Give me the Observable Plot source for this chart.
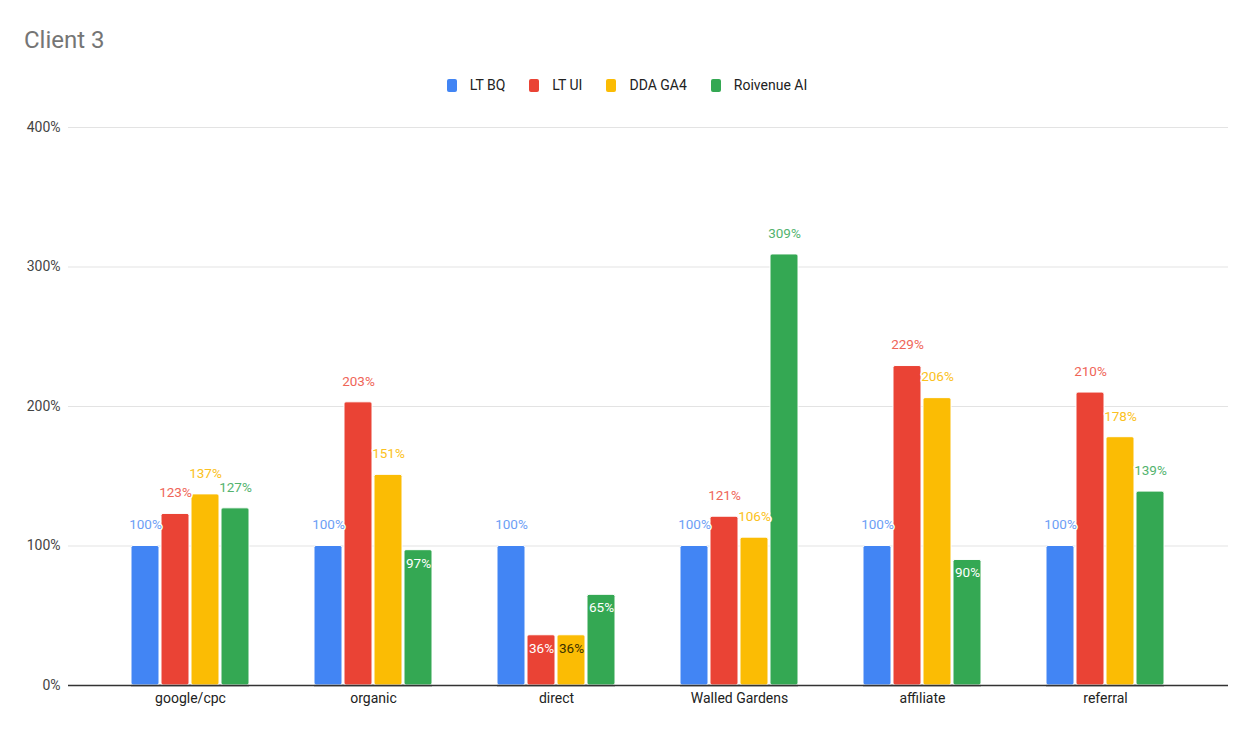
<!DOCTYPE html>
<html>
<head>
<meta charset="utf-8">
<script src="https://cdn.jsdelivr.net/npm/d3@7"></script>
<script src="https://cdn.jsdelivr.net/npm/@observablehq/plot@0.6"></script>
<style>
  html, body { margin: 0; padding: 0; background: #fff; }
  #wrap { position: relative; width: 1254px; height: 729px; font-family: Roboto, "Noto Sans", sans-serif; overflow: hidden; }
  #title { position: absolute; left: 24px; top: 26px; font-size: 24px; color: #757575; }
  #legend { position: absolute; left: 0; top: 77px; width: 1254px; display: flex; justify-content: center; font-size: 14px; color: #222; }
  .item { display: flex; align-items: center; margin: 0 12px; }
  .sw { width: 10px; height: 13px; border-radius: 2px; margin-right: 13px; }
  .layer { position: absolute; left: 0; top: 110px; }
</style>
</head>
<body>
<div id="wrap">
  <div id="title">Client 3</div>
  <div id="legend"></div>
  <div id="bg" class="layer"></div>
  <div id="fg" class="layer"></div>
</div>
<script>
const categories = ["google/cpc", "organic", "direct", "Walled Gardens", "affiliate", "referral"];
const series = ["LT BQ", "LT UI", "DDA GA4", "Roivenue AI"];
const ltBQ = [100, 100, 100, 100, 100, 100];
const ltUI = [123, 203, 36, 121, 229, 210];
const ddaGA4 = [137, 151, 36, 106, 206, 178];
const roivenueAI = [127, 97, 65, 309, 90, 139];
const yTicks = [0, 100, 200, 300, 400];

const barColors = {"LT BQ": "#4285f4", "LT UI": "#ea4335", "DDA GA4": "#fbbc04", "Roivenue AI": "#34a853"};
const labelColors = {"LT BQ": "#6d9ef5", "LT UI": "#ef6558", "DDA GA4": "#fbc121", "Roivenue AI": "#53b36e"};
const insideColors = {"LT BQ": "#ffffff", "LT UI": "#ffffff", "DDA GA4": "#3a3000", "Roivenue AI": "#ffffff"};

const seriesValues = [ltBQ, ltUI, ddaGA4, roivenueAI];
const data = [];
categories.forEach((c, i) => series.forEach((s, j) => data.push({category: c, series: s, value: seriesValues[j][i]})));

// legend
const legend = document.getElementById("legend");
series.forEach(s => {
  const it = document.createElement("div");
  it.className = "item";
  it.innerHTML = `<div class="sw" style="background:${barColors[s]}"></div><span>${s}</span>`;
  legend.appendChild(it);
});

const common = {
  width: 1254,
  height: 619,
  marginTop: 17,
  marginBottom: 44,
  marginLeft: 68,
  marginRight: 26,
  style: {fontFamily: "Roboto, 'Noto Sans', sans-serif", fontSize: "14px", color: "#222", background: "transparent"}
};

// background: gridlines, y tick labels, baseline
const bg = Plot.plot({
  ...common,
  y: {domain: [0, 400], axis: null},
  marks: [
    Plot.ruleY(yTicks.filter(t => t > 0), {stroke: "#e3e3e3", strokeWidth: 1.2}),
    Plot.text(yTicks, {y: d => d, text: d => d + "%", frameAnchor: "left", textAnchor: "end", dx: -8, fill: "#444", fontSize: 14}),
    Plot.ruleY([0], {stroke: "#333", strokeWidth: 1.3})
  ]
});
document.getElementById("bg").appendChild(bg);

const outside = data.filter(d => d.value >= 100);
const inside = data.filter(d => d.value < 100);

const fg = Plot.plot({
  ...common,
  fx: {domain: categories, range: [98.5, 1196.5], paddingInner: 0.355, paddingOuter: 0.1775, label: null},
  x: {domain: series, paddingInner: 0.07, paddingOuter: 0, axis: null},
  y: {domain: [0, 400], axis: null},
  marks: [
    Plot.barY(data, {fx: "category", x: "series", y: "value", fill: d => barColors[d.series], stroke: "#fff", strokeWidth: 1, rx: 2}),
    Plot.ruleY([0], {stroke: "#333", strokeWidth: 1.3}),
    Plot.text(outside, {fx: "category", x: "series", y: "value", text: d => d.value + "%", dy: -21, fill: d => labelColors[d.series], stroke: "#fff", strokeWidth: 3, paintOrder: "stroke", fontSize: 13.5, fontWeight: 400}),
    Plot.text(inside, {fx: "category", x: "series", y: "value", text: d => d.value + "%", dy: 13, fill: d => insideColors[d.series], fontSize: 13.5, fontWeight: 400}),
    Plot.axisFx({anchor: "bottom", tickSize: 0, tickPadding: 8, fontSize: 14, label: null, fill: "#222"})
  ]
});
document.getElementById("fg").appendChild(fg);
</script>
</body>
</html>
